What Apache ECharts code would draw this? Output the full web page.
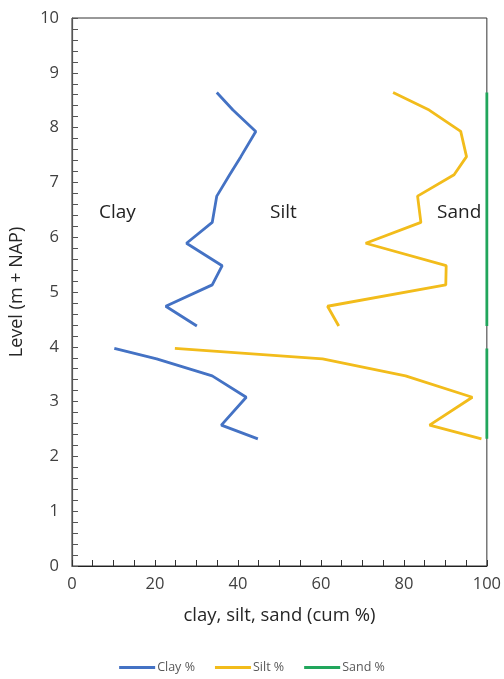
<!DOCTYPE html>
<html>
<head>
<meta charset="utf-8">
<script src="https://cdn.jsdelivr.net/npm/echarts@6/dist/echarts.min.js"></script>
<style>html,body{margin:0;padding:0;background:#fff}#c{width:504px;height:679px}</style>
</head>
<body>
<div id="c"></div>
<script>
// Level (m + NAP); null marks the gap between the two sampled intervals
const levels = [8.64, 8.32, 7.93, 7.47, 7.14, 6.75, 6.27, 5.89, 5.48, 5.13, 4.74, 4.38, null, 3.97, 3.78, 3.47, 3.08, 2.57, 2.32];
const clayCum = [34.9, 38.8, 44.3, 40.7, 38.0, 34.9, 33.8, 27.6, 36.2, 33.8, 22.6, 30.1, null, 10.2, 20.4, 33.8, 42.0, 36.0, 44.8];
const siltCum = [77.4, 86.1, 93.7, 95.1, 92.1, 83.3, 84.1, 70.8, 90.2, 90.1, 61.6, 64.3, null, 24.8, 60.4, 80.4, 96.5, 86.2, 98.7];
const sandCum = [100, 100, 100, 100, 100, 100, 100, 100, 100, 100, 100, 100, null, 100, 100, 100, 100, 100, 100];
const seriesNames = ['Clay %', 'Silt %', 'Sand %'];
const zoneLabels = ['Clay', 'Silt', 'Sand'];
const xTicks = [0, 20, 40, 60, 80, 100];
const yTicks = [0, 1, 2, 3, 4, 5, 6, 7, 8, 9, 10];

function pairs(vals) {
  return vals.map((v, i) => (v === null || levels[i] === null) ? ['-', '-'] : [v, levels[i]]);
}

const FONT = 'Open Sans, Noto Sans, sans-serif';
const chart = echarts.init(document.getElementById('c'));
const colors = ['#4472C4', '#F2BC1B', '#21A65C'];
chart.setOption({
  animation: false,
  textStyle: { fontFamily: FONT },
  grid: { left: 72, right: 16, top: 18, bottom: 113, show: true, borderColor: '#333', borderWidth: 1 },
  xAxis: {
    type: 'value', min: 0, max: 100, interval: 20,
    name: 'clay, silt, sand (cum %)', nameLocation: 'middle', nameGap: 40,
    nameTextStyle: { fontSize: 18.5, color: '#262626' },
    axisLine: { lineStyle: { color: '#222', width: 1.2 } },
    axisTick: { inside: true, length: 6, lineStyle: { color: '#333' } },
    minorTick: { show: true, splitNumber: 4, length: 6, lineStyle: { color: '#333' } },
    axisLabel: { fontSize: 16.5, color: '#404040', margin: 10, formatter: v => xTicks.includes(v) ? String(v) : '' },
    splitLine: { show: false }
  },
  yAxis: {
    type: 'value', min: 0, max: 10, interval: 1,
    name: 'Level (m + NAP)', nameLocation: 'middle', nameGap: 46,
    nameTextStyle: { fontSize: 18, color: '#262626' },
    axisLine: { show: true, lineStyle: { color: '#555', width: 1.2 } },
    axisTick: { inside: true, length: 6, lineStyle: { color: '#555' } },
    minorTick: { show: true, splitNumber: 5, length: 6, lineStyle: { color: '#555' } },
    axisLabel: { fontSize: 16.5, color: '#404040', margin: 13, formatter: v => yTicks.includes(v) ? String(v) : '' },
    splitLine: { show: false }
  },
  legend: {
    bottom: 0, left: 'center', itemWidth: 36, itemHeight: 3, itemGap: 20,
    icon: 'rect',
    textStyle: { fontSize: 12.5, color: '#595959', padding: [0, 0, 0, -3] },
    data: seriesNames
  },
  graphic: [
    { type: 'text', left: 99, top: 203, style: { text: zoneLabels[0], fontSize: 19, fill: '#222', fontFamily: FONT } },
    { type: 'text', left: 270, top: 203, style: { text: zoneLabels[1], fontSize: 19, fill: '#222', fontFamily: FONT } },
    { type: 'text', left: 437, top: 203, style: { text: zoneLabels[2], fontSize: 19, fill: '#222', fontFamily: FONT } }
  ],
  series: [clayCum, siltCum, sandCum].map((vals, i) => ({
    name: seriesNames[i], type: 'line', data: pairs(vals),
    showSymbol: false, symbol: 'none', connectNulls: false,
    lineStyle: { color: colors[i], width: 2.8 },
    itemStyle: { color: colors[i] }, z: 3 - i
  }))
});
</script>
</body>
</html>
